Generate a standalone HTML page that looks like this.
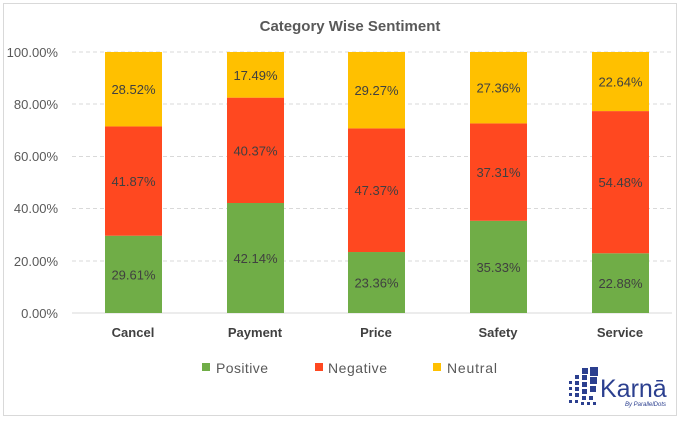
<!DOCTYPE html>
<html><head><style>
body{margin:0;background:#fff;}
svg text{font-family:"Liberation Sans",sans-serif;}
</style></head><body>
<svg width="680" height="419" xmlns="http://www.w3.org/2000/svg">
<rect x="3.5" y="3.5" width="673" height="412" fill="#fff" stroke="#d9d9d9"/>
<text x="350" y="31" text-anchor="middle" font-size="15" font-weight="bold" fill="#595959">Category Wise Sentiment</text>
<g stroke="#d9d9d9" stroke-dasharray="4,3">
<line x1="72" y1="52" x2="672" y2="52"/><line x1="72" y1="104" x2="672" y2="104"/><line x1="72" y1="156.5" x2="672" y2="156.5"/><line x1="72" y1="208.5" x2="672" y2="208.5"/><line x1="72" y1="261" x2="672" y2="261"/>
</g>
<line x1="72" y1="313" x2="672" y2="313" stroke="#d9d9d9"/>
<g font-size="13" fill="#595959" text-anchor="end">
<text x="58" y="57">100.00%</text><text x="58" y="109">80.00%</text><text x="58" y="161">60.00%</text><text x="58" y="213">40.00%</text><text x="58" y="266">20.00%</text><text x="58" y="318">0.00%</text>
</g>
<g id="bars"></g>
<g font-size="13" font-weight="bold" fill="#404040" text-anchor="middle">
<text x="133" y="337">Cancel</text><text x="255" y="337">Payment</text><text x="376" y="337">Price</text><text x="498" y="337">Safety</text><text x="620" y="337">Service</text>
</g>
<g font-size="14" fill="#595959">
<rect x="202" y="363" width="8" height="8" fill="#70AD47"/><text x="216" y="373" textLength="52">Positive</text>
<rect x="315" y="363" width="8" height="8" fill="#FF4820"/><text x="328" y="373" textLength="59">Negative</text>
<rect x="433" y="363" width="8" height="8" fill="#FFC000"/><text x="447" y="373" textLength="50">Neutral</text>
</g>
<g fill="#2B3F8F">
<rect x="582" y="368" width="6" height="6"/><rect x="590" y="367" width="8" height="9"/>
<rect x="575" y="375" width="4" height="4"/><rect x="582" y="375" width="5" height="5"/><rect x="590" y="377" width="7" height="7"/>
<rect x="569" y="381" width="3" height="3"/><rect x="575" y="381" width="4" height="4"/><rect x="582" y="382" width="5" height="5"/><rect x="590" y="386" width="6" height="6"/>
<rect x="569" y="387" width="3" height="3"/><rect x="575" y="387" width="4" height="4"/><rect x="582" y="389" width="5" height="5"/>
<rect x="569" y="393" width="3" height="3"/><rect x="575" y="393" width="4" height="4"/><rect x="582" y="396" width="4" height="4"/><rect x="589" y="396" width="4" height="4"/>
<rect x="569" y="400" width="3" height="3"/><rect x="575" y="400" width="3" height="3"/><rect x="581" y="402" width="3" height="3"/><rect x="587" y="402" width="3" height="3"/><rect x="593" y="402" width="3" height="3"/>
<text x="600" y="397" font-size="25">Karnā</text>
<text x="625" y="406" font-size="6" font-style="italic">By ParallelDots</text>
</g>
</svg>
<script>
var d=[[29.61,41.87,28.52],[42.14,40.37,17.49],[23.36,47.37,29.27],[35.33,37.31,27.36],[22.88,54.48,22.64]];
var xs=[105,227,348,470,592],c=["#70AD47","#FF4820","#FFC000"],s=2.61,g=document.getElementById("bars"),h="";
d.forEach(function(r,i){var b=313;r.forEach(function(v,j){var hh=v*s;b-=hh;h+='<rect x="'+xs[i]+'" y="'+b+'" width="57" height="'+hh+'" fill="'+c[j]+'"/>';h+='<text x="'+(xs[i]+28.5)+'" y="'+(b+hh/2+5)+'" text-anchor="middle" font-size="13" fill="#404040">'+v.toFixed(2)+'%</text>';});});
g.innerHTML=h;
</script>
</body></html>
